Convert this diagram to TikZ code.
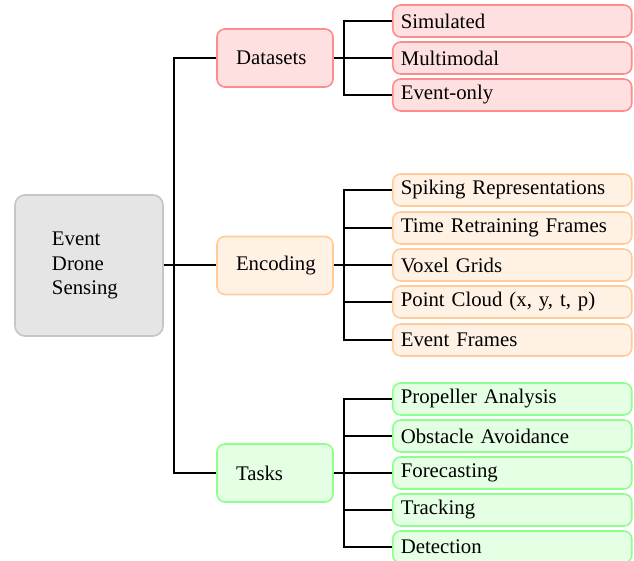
\documentclass[tikz,border=0pt]{standalone}
\usepackage{fontspec}
\setmainfont{Liberation Serif}
\begin{document}
\begin{tikzpicture}[x=0.5pt,y=-0.5pt,
  font=\fontsize{10.4}{12.3}\selectfont,
  rootbox/.style={draw=gray!45,fill=gray!20,line width=0.8pt,rounded corners=5pt,
    text width=37pt,inner xsep=18.5pt,minimum height=70.5pt,align=left,inner ysep=0pt},
  lvlbox/.style={line width=0.8pt,rounded corners=4pt,text width=39pt,inner xsep=9.5pt,
    minimum height=29pt,inner ysep=0pt,align=left},
  leafbox/.style={line width=0.8pt,rounded corners=4pt,minimum height=16pt,text width=111.5pt,
    inner xsep=4pt,inner ysep=0pt,align=left},
  redc/.style={draw=red!45,fill=red!12},
  orac/.style={draw=orange!40,fill=orange!10},
  grnc/.style={draw=green!45,fill=green!10},
  conn/.style={line width=1pt,black}]
\useasboundingbox (0,0) rectangle (634,561);
\node[rootbox] (root) at (89,265.5) {Event\\Drone\\Sensing};
\coordinate (trunk) at (174,265.5);
\node[lvlbox,redc] (ds) at (275,58) {Datasets};
\node[lvlbox,orac] (enc) at (275,265.5) {Encoding};
\node[lvlbox,grnc] (tsk) at (275,473) {Tasks};
% leaves
\node[leafbox,redc,anchor=west] (d1) at (392,21) {Simulated};
\node[leafbox,redc,anchor=west] (d2) at (392,58) {Multimodal};
\node[leafbox,redc,anchor=west] (d3) at (392,95) {Event-only};
\node[leafbox,orac,anchor=west] (e1) at (392,190) {Spiking Representations};
\node[leafbox,orac,anchor=west] (e2) at (392,228) {Time Retraining Frames};
\node[leafbox,orac,anchor=west] (e3) at (392,265) {Voxel Grids};
\node[leafbox,orac,anchor=west] (e4) at (392,302) {Point Cloud (x, y, t, p)};
\node[leafbox,orac,anchor=west] (e5) at (392,340) {Event Frames};
\node[leafbox,grnc,anchor=west] (t1) at (392,399) {Propeller Analysis};
\node[leafbox,grnc,anchor=west] (t2) at (392,436) {Obstacle Avoidance};
\node[leafbox,grnc,anchor=west] (t3) at (392,473) {Forecasting};
\node[leafbox,grnc,anchor=west] (t4) at (392,510) {Tracking};
\node[leafbox,grnc,anchor=west] (t5) at (392,547) {Detection};
% connectors
\draw[conn] (root.east) -- (trunk);
\draw[conn] (ds.west) -| (trunk) |- (tsk.west);
\draw[conn] (trunk) -- (enc.west);
\foreach \p in {ds,enc,tsk}{
  \draw[conn] (\p.east) -- ++(12,0);
}
\draw[conn] (d1.west) -| (344,58) |- (d3.west);
\draw[conn] (d2.west) -- (d2.west -| 344,0);
\draw[conn] (e1.west) -| (344,265) |- (e5.west);
\foreach \n in {e2,e3,e4}{\draw[conn] (\n.west) -- (\n.west -| 344,0);}
\draw[conn] (t1.west) -| (344,473) |- (t5.west);
\foreach \n in {t2,t3,t4}{\draw[conn] (\n.west) -- (\n.west -| 344,0);}
\end{tikzpicture}
\end{document}
